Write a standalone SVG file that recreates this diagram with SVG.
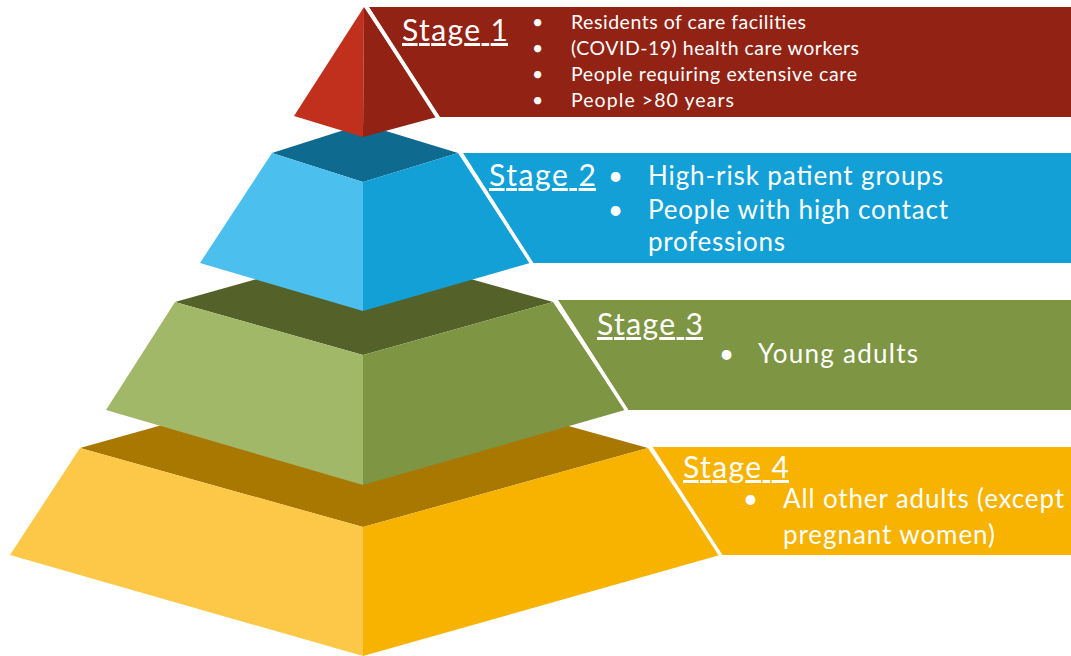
<svg xmlns="http://www.w3.org/2000/svg" width="1071" height="656" viewBox="0 0 1071 656">
<style>
text{font-family:Lato,"Open Sans","Liberation Sans",sans-serif;fill:#fff}
.t{font-size:30px;text-decoration:underline}
.s1{font-size:19.5px}
.b{font-size:26px}
.sep{stroke:#fff;stroke-width:3.5;fill:none}
</style>
<rect width="1071" height="656" fill="#fff"/>
<g id="stage4">
<polygon points="652,447 1071,447 1071,555 722,555" fill="#F8B200"/>
<polygon points="80,448 363,369 648,448 363,527" fill="#A87800"/>
<polygon points="80,448 363,527 363,656 10,555" fill="#FDC847"/>
<polygon points="363,527 648,448 720,555 363,656" fill="#F8B200"/>
<line class="sep" x1="650" y1="446" x2="721" y2="556"/>
<text class="t" x="683" y="478" textLength="106">Stage 4</text>
<text class="b" x="743" y="508">•</text>
<text class="b" x="783" y="508" textLength="281">All other adults (except</text>
<text class="b" x="783" y="544" textLength="212">pregnant women)</text>
</g>
<g id="stage3">
<polygon points="558,300 1071,300 1071,410 628,410" fill="#7E9544"/>
<polygon points="175,302 363,249 553,302 363,355" fill="#546129"/>
<polygon points="175,302 363,355 363,485 106,410" fill="#A2B869"/>
<polygon points="363,355 553,302 625,410 363,485" fill="#7E9544"/>
<line class="sep" x1="555" y1="299" x2="627" y2="411"/>
<text class="t" x="597" y="335" textLength="106">Stage 3</text>
<text class="b" x="719" y="363">•</text>
<text class="b" x="758" y="363" textLength="160">Young adults</text>
</g>
<g id="stage2">
<polygon points="463,153 1071,153 1071,263 533,263" fill="#12A0D7"/>
<polygon points="272,153 363,124 458,153 363,182" fill="#0E6A8E"/>
<polygon points="272,153 363,182 363,311 200,263" fill="#4BBFEE"/>
<polygon points="363,182 458,153 530,263 363,311" fill="#12A0D7"/>
<line class="sep" x1="460" y1="152" x2="532" y2="264"/>
<text class="t" x="489" y="186" textLength="107">Stage 2</text>
<text class="b" x="608" y="185">•</text>
<text class="b" x="648" y="185" textLength="295">High-risk patient groups</text>
<text class="b" x="608" y="219">•</text>
<text class="b" x="648" y="219" textLength="300">People with high contact</text>
<text class="b" x="648" y="251" textLength="137">professions</text>
</g>
<g id="stage1">
<polygon points="369,7 1071,7 1071,117 440,117" fill="#922314"/>
<polygon points="364,7 294,116 363,137" fill="#C0301C"/>
<polygon points="364,7 363,137 437,117" fill="#922314"/>
<line class="sep" x1="366" y1="6" x2="438" y2="118"/>
<text class="t" x="402" y="41" textLength="106">Stage 1</text>
<text class="s1" x="532" y="29">•</text>
<text class="s1" x="571" y="29" textLength="235">Residents of care facilities</text>
<text class="s1" x="532" y="55">•</text>
<text class="s1" x="571" y="55" textLength="288">(COVID-19) health care workers</text>
<text class="s1" x="532" y="81">•</text>
<text class="s1" x="571" y="81" textLength="286">People requiring extensive care</text>
<text class="s1" x="532" y="107">•</text>
<text class="s1" x="571" y="107" textLength="163">People &gt;80 years</text>
</g>
<g id="connectors"/>
</svg>
